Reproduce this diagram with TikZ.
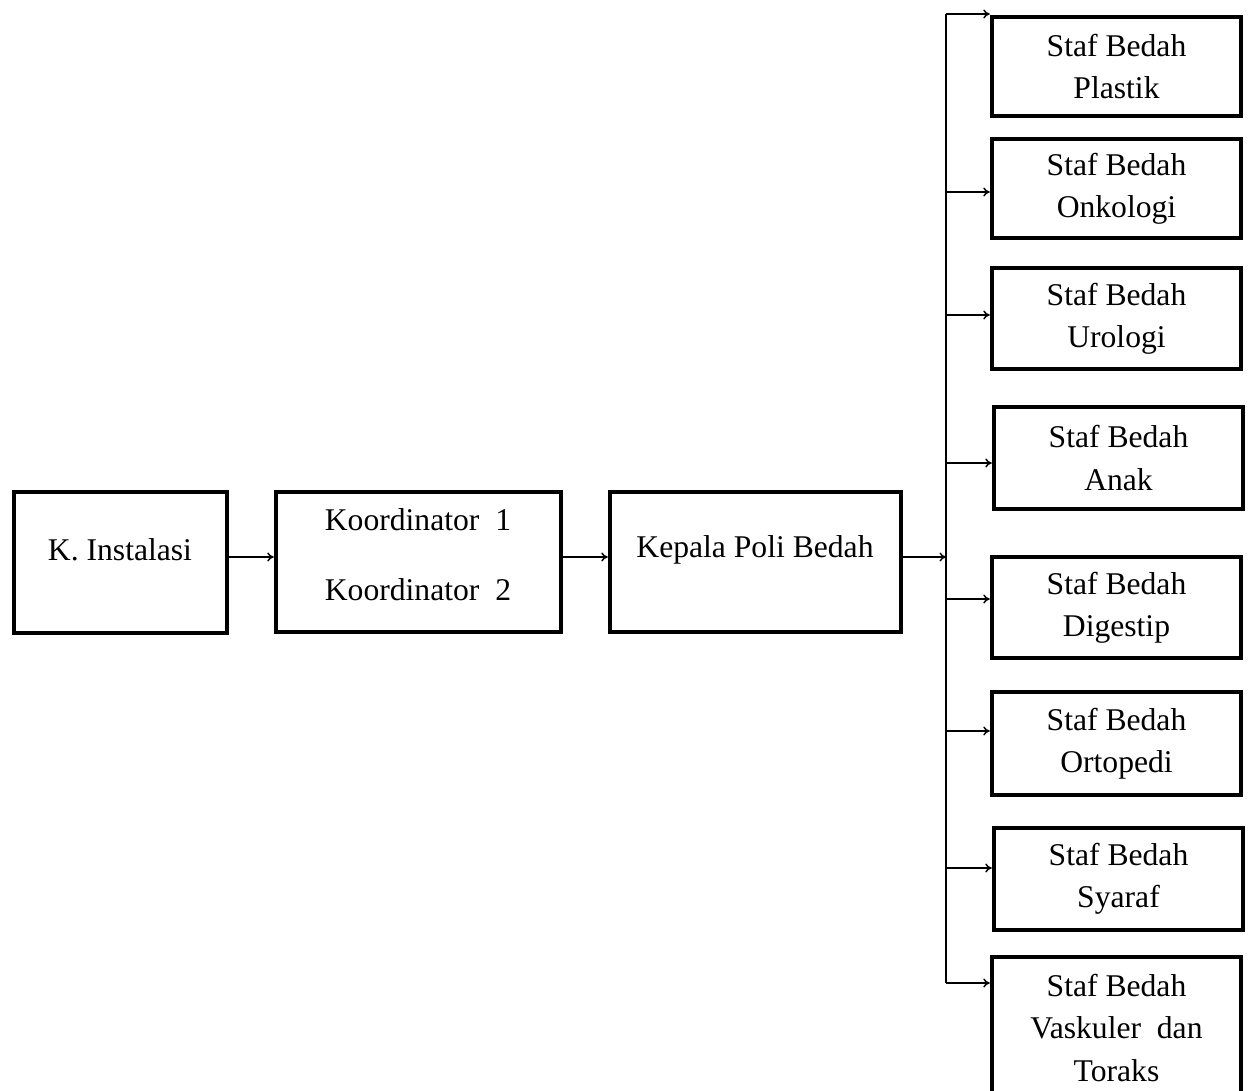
\documentclass[tikz,border=0pt]{standalone}
\usepackage{fontspec}
\setmainfont{Liberation Serif}
\usetikzlibrary{positioning,arrows.meta}
\begin{document}
\begin{tikzpicture}[x=0.02cm,y=-0.02cm]

	\tikzstyle{unit}=[draw,rectangle,line width=0.09cm,inner sep=0pt,text centered,font=\fontsize{18}{24}\selectfont]
	\tikzstyle{staff}=[unit,minimum width=4.98cm,minimum height=2cm,align=center]
	\tikzstyle{boxtext}=[inner sep=0pt,align=center,font=\fontsize{18}{24}\selectfont]
	\tikzstyle{link}=[-{To[length=0.13cm,width=0.18cm]},line width=0.03cm]

	\useasboundingbox (0,0) rectangle (1248,1091);
	\clip (0,0) rectangle (1248,1091);

	% chain on the left
	\node[unit,minimum width=4.26cm,minimum height=2.82cm] (inst) at (120.5,562.5) {};
	\node[boxtext] (insttext) at (120,550) {K. Instalasi};

	\node[unit,minimum width=5.7cm,minimum height=2.8cm] (koor) at (418.5,562) {};
	\node[boxtext] (koortext) at (418,555) {Koordinator\ \ 1\\[16pt]Koordinator\ \ 2};

	\node[unit,minimum width=5.82cm,minimum height=2.8cm] (kepala) at (755.5,562) {};
	\node[boxtext] (kepalatext) at (755,550) {Kepala Poli Bedah};

	% staff boxes
	\node[staff,minimum height=1.98cm] (plastik) at (1116.5,66.5) {Staf Bedah\\Plastik};
	\node[staff,minimum height=1.98cm] (onko) at (1116.5,188.5) {Staf Bedah\\Onkologi};
	\node[staff,minimum height=2.02cm] (uro) at (1116.5,318.5) {Staf Bedah\\Urologi};
	\node[staff,minimum height=2.04cm] (anak) at (1118.5,458) {Staf Bedah\\Anak};
	\node[staff,minimum height=2.02cm] (digestip) at (1116.5,607.5) {Staf Bedah\\Digestip};
	\node[staff,minimum height=2.06cm] (orto) at (1116.5,743.5) {Staf Bedah\\Ortopedi};
	\node[staff,minimum height=2.04cm] (syaraf) at (1118.5,879) {Staf Bedah\\Syaraf};
	\node[staff,minimum height=2.84cm] (vaskuler) at (1116.5,1028) {Staf Bedah\\Vaskuler\ \ dan\\Toraks};

	% branch points on the bus
	\coordinate (split) at (946,557);
	\coordinate (b1) at (946,14);
	\coordinate (b2) at (946,192);
	\coordinate (b3) at (946,315);
	\coordinate (b4) at (946,463);
	\coordinate (b5) at (946,599);
	\coordinate (b6) at (946,731);
	\coordinate (b7) at (946,868);
	\coordinate (b8) at (946,983);

	\draw[link] (inst.east |- split) -- (koor.west |- split);
	\draw[link] (koor.east |- split) -- (kepala.west |- split);
	\draw[link] (kepala.east |- split) -- (split);

	\draw[line width=0.03cm] (b1) -- (b8);

	\draw[link] (b1) -- (b1 -| plastik.west);
	\draw[link] (b2) -- (b2 -| onko.west);
	\draw[link] (b3) -- (b3 -| uro.west);
	\draw[link] (b4) -- (b4 -| anak.west);
	\draw[link] (b5) -- (b5 -| digestip.west);
	\draw[link] (b6) -- (b6 -| orto.west);
	\draw[link] (b7) -- (b7 -| syaraf.west);
	\draw[link] (b8) -- (b8 -| vaskuler.west);

\end{tikzpicture}
\end{document}
